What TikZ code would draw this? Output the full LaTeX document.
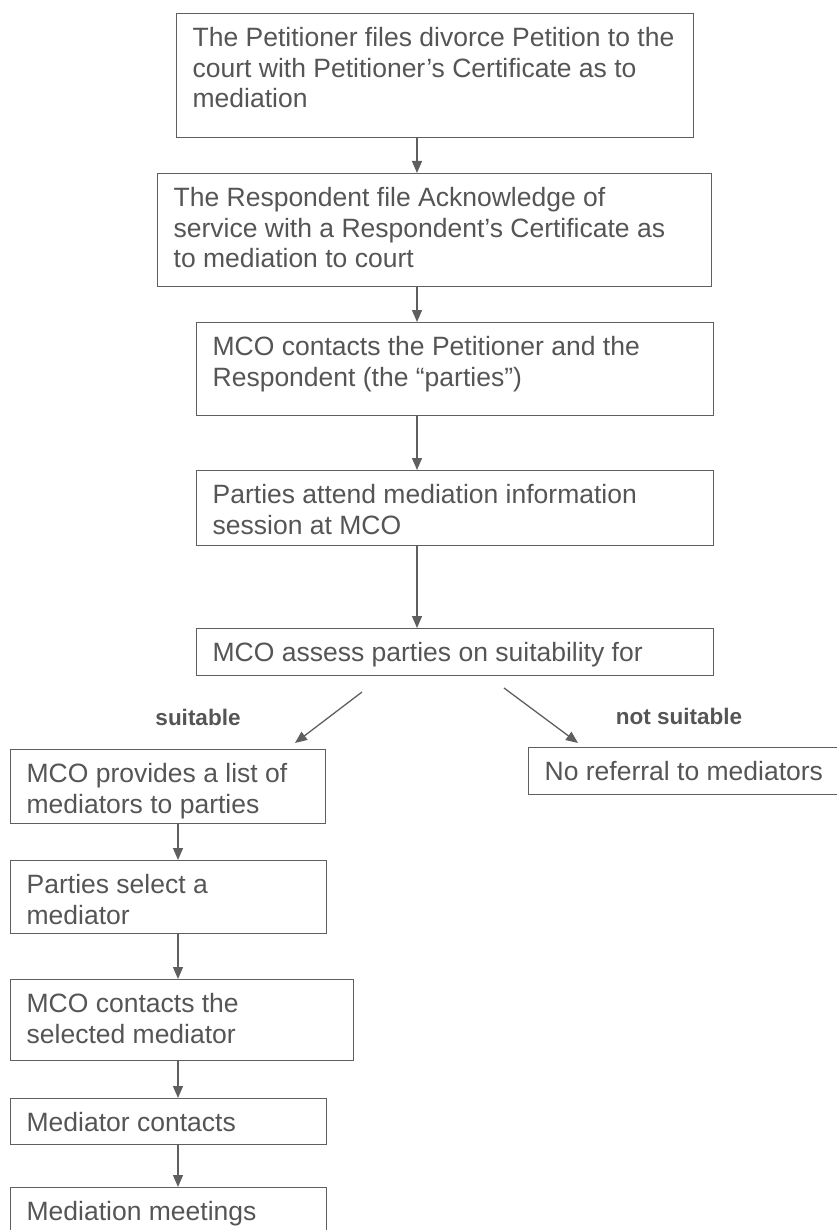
\documentclass[tikz,border=0pt]{standalone}
\usepackage{fontspec}
\setmainfont{Liberation Sans}
\usetikzlibrary{arrows.meta,positioning}
\definecolor{linegray}{HTML}{5F5F5F}
\definecolor{textgray}{HTML}{555555}

\begin{document}
\begin{tikzpicture}[x=1pt,y=-1pt,
  flowbox/.style={draw=linegray,line width=1.3pt,text=textgray,anchor=north west,align=flush left,
    inner xsep=16pt,inner ysep=0pt,text height=33pt,font=\fontsize{26.5}{30.5}\selectfont},
  flowarrow/.style={draw=linegray,line width=1.3pt,-{Triangle[length=12pt,width=10pt]}},
  choice/.style={text=textgray,font=\fontsize{22.5}{27}\selectfont\bfseries}]
\useasboundingbox (0,0) rectangle (836,1230);
\node[flowbox,text width=485pt,text depth=91pt] (petition) at (176,13)
  {The Petitioner files divorce Petition to the\\court with Petitioner's Certificate as to\\mediation};
\node[flowbox,text width=522pt,text depth=80pt] (respondent) at (157,173)
  {The Respondent file Acknowledge of\\service with a Respondent's Certificate as\\to mediation to court};
\node[flowbox,text width=485pt,text depth=60pt] (contact) at (196,322)
  {MCO contacts the Petitioner and the\\Respondent (the ``parties'')};
\node[flowbox,text width=485pt,text depth=42pt] (session) at (196,470)
  {Parties attend mediation information\\session at MCO};
\node[flowbox,text width=485pt,text depth=14pt] (assess) at (196,628)
  {MCO assess parties on suitability for};
\node[flowbox,text width=283pt,text depth=41pt] (list) at (10,749)
  {MCO provides a list of\\mediators to parties};
\node[flowbox,text width=300pt,text depth=14pt] (noref) at (528,747)
  {No referral to mediators};
\node[flowbox,text width=284pt,text depth=40pt] (select) at (10,860)
  {Parties select a\\mediator};
\node[flowbox,text width=311pt,text depth=48pt] (mcocontact) at (10,979)
  {MCO contacts the\\selected mediator};
\node[flowbox,text width=284pt,text depth=13pt] (medcontact) at (10,1098)
  {Mediator contacts};
\node[flowbox,text width=284pt,text depth=30pt] (meetings) at (10,1187)
  {Mediation meetings};

\node[choice] (suit) at (198,717) {suitable};
\node[choice] (notsuit) at (679,716) {not suitable};

\coordinate (spine) at (417,0);
\coordinate (lane) at (178,0);
\coordinate (suitfrom) at (362,692);
\coordinate (suitto) at (295,743);
\coordinate (notfrom) at (504,688);
\coordinate (notto) at (578,743);

\draw[flowarrow] (petition.south -| spine) -- (respondent.north -| spine);
\draw[flowarrow] (respondent.south -| spine) -- (contact.north -| spine);
\draw[flowarrow] (contact.south -| spine) -- (session.north -| spine);
\draw[flowarrow] (session.south -| spine) -- (assess.north -| spine);
\draw[flowarrow] (suitfrom) -- (suitto);
\draw[flowarrow] (notfrom) -- (notto);
\draw[flowarrow] (list.south -| lane) -- (select.north -| lane);
\draw[flowarrow] (select.south -| lane) -- (mcocontact.north -| lane);
\draw[flowarrow] (mcocontact.south -| lane) -- (medcontact.north -| lane);
\draw[flowarrow] (medcontact.south -| lane) -- (meetings.north -| lane);
\end{tikzpicture}
\end{document}
